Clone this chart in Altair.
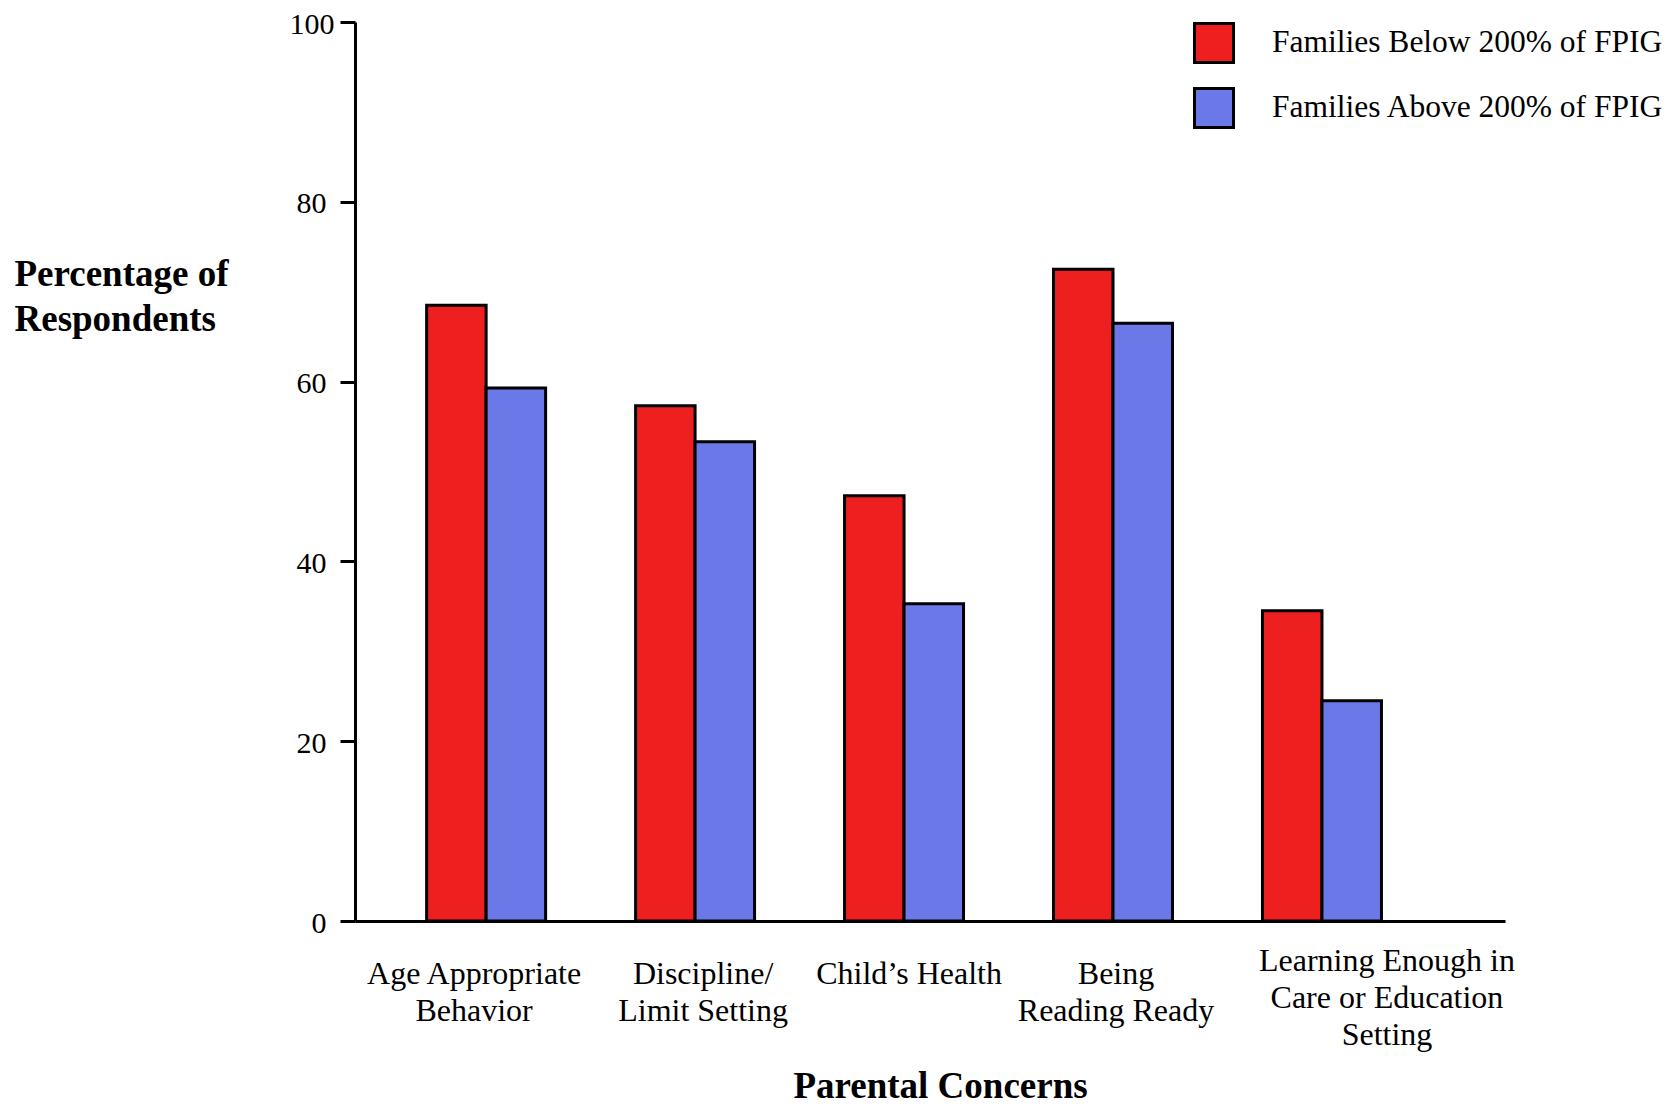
import altair as alt
import pandas as pd

categories = [
    "Age Appropriate|Behavior",
    "Discipline/|Limit Setting",
    "Child’s Health",
    "Being|Reading Ready",
    "Learning Enough in|Care or Education|Setting",
]
label_shift = [-12, 8, 5, 3, 65]
series = ["Families Below 200% of FPIG", "Families Above 200% of FPIG"]
below = [68.5, 57.3, 47.3, 72.5, 34.5]
above = [59.3, 53.3, 35.3, 66.5, 24.5]
colors = ["#EE1F1F", "#6B79E8"]
y_ticks = [0, 20, 40, 60, 80, 100]

rows = []
for c, b, a in zip(categories, below, above):
    rows.append({"concern": c, "group": series[0], "pct": b})
    rows.append({"concern": c, "group": series[1], "pct": a})
df = pd.DataFrame(rows)

FONT = "Liberation Serif"
LAST = categories[-1]

offset_conditions = [
    {"test": f"datum.value === '{c}'", "value": s} for c, s in zip(categories, label_shift)
]

chart = (
    alt.Chart(df)
    .mark_bar(stroke="black", strokeWidth=3)
    .encode(
        x=alt.X(
            "concern:N",
            sort=categories,
            scale=alt.Scale(paddingInner=0.4306, paddingOuter=0.467, align=0.367, round=False),
            axis=alt.Axis(
                title="Parental Concerns",
                labelExpr="split(datum.label, '|')",
                labelAngle=0,
                ticks=False,
                tickSize=0,
                labelPadding={
                    "condition": {"test": f"datum.value === '{LAST}'", "value": 39},
                    "value": 52,
                },
                labelOffset={"condition": offset_conditions, "value": 0},
                labelBaseline="middle",
                labelLineHeight=37,
                labelFont=FONT,
                labelFontSize=32,
                labelColor="black",
                labelLimit=600,
                labelOverlap=False,
                domainColor="black",
                domainWidth=3,
                titleFont=FONT,
                titleFontSize=37,
                titleFontWeight="bold",
                titleColor="black",
                titleX=585,
                titleY=176,
                titleAlign="center",
                titleBaseline="alphabetic",
            ),
        ),
        xOffset=alt.XOffset("group:N", sort=series, scale=alt.Scale(paddingInner=0, paddingOuter=0)),
        y=alt.Y(
            "pct:Q",
            scale=alt.Scale(domain=[0, 100], nice=False),
            axis=alt.Axis(
                values=y_ticks,
                grid=False,
                tickSize=15,
                tickWidth=3,
                tickColor="black",
                domainColor="black",
                domainWidth=3,
                labelFont=FONT,
                labelFontSize=30,
                labelColor="black",
                labelOffset=2,
                labelPadding={
                    "condition": {"test": "datum.value === 100", "value": 6},
                    "value": 14,
                },
                title=["Percentage of", "Respondents"],
                titleAngle=0,
                titleAlign="left",
                titleBaseline="alphabetic",
                titleX=-341,
                titleY=263,
                titleFont=FONT,
                titleFontSize=37,
                titleFontWeight="bold",
                titleColor="black",
                titleLineHeight=45,
            ),
        ),
        color=alt.Color(
            "group:N",
            sort=series,
            scale=alt.Scale(domain=series, range=colors),
            legend=alt.Legend(
                title=None,
                orient="none",
                legendX=838,
                legendY=0,
                symbolType="square",
                symbolSize=1521,
                symbolStrokeColor="black",
                symbolStrokeWidth=3,
                symbolOpacity=1,
                labelFont=FONT,
                labelFontSize=31.5,
                labelColor="black",
                labelOffset=37,
                rowPadding=13,
                padding=0,
                labelLimit=600,
            ),
        ),
    )
    .properties(
        width=1150,
        height=899,
        autosize=alt.AutoSizeParams(type="none"),
        padding={"left": 347, "top": 14, "right": 162, "bottom": 184},
        background="white",
    )
    .configure_view(stroke=None)
)

chart.save("out.html", embed_options={"renderer": "svg", "actions": False})
